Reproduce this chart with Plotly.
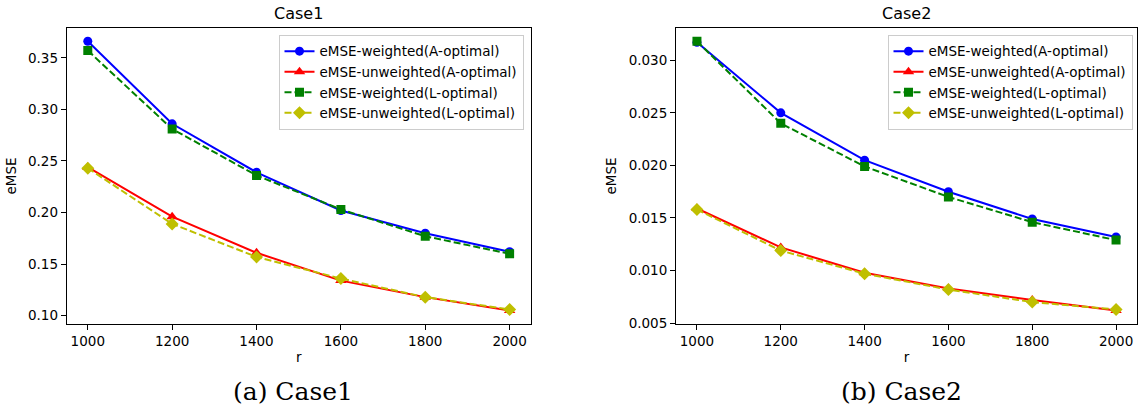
import plotly.graph_objects as go

r_values = [1000, 1200, 1400, 1600, 1800, 2000]

case1_weighted_A = [0.366, 0.286, 0.239, 0.202, 0.180, 0.162]
case1_unweighted_A = [0.244, 0.196, 0.161, 0.134, 0.118, 0.105]
case1_weighted_L = [0.357, 0.281, 0.236, 0.203, 0.177, 0.160]
case1_unweighted_L = [0.243, 0.189, 0.157, 0.136, 0.118, 0.106]

case2_weighted_A = [0.0317, 0.0250, 0.0205, 0.0175, 0.0149, 0.0132]
case2_unweighted_A = [0.0159, 0.0122, 0.0098, 0.0083, 0.0072, 0.0062]
case2_weighted_L = [0.0318, 0.0240, 0.0199, 0.0170, 0.0146, 0.0129]
case2_unweighted_L = [0.0158, 0.0119, 0.0097, 0.0082, 0.0070, 0.0063]

series_names = ["eMSE-weighted(A-optimal)", "eMSE-unweighted(A-optimal)",
                "eMSE-weighted(L-optimal)", "eMSE-unweighted(L-optimal)"]
x_ticks = [1000, 1200, 1400, 1600, 1800, 2000]
case1_yticks = [0.10, 0.15, 0.20, 0.25, 0.30, 0.35]
case2_yticks = [0.005, 0.010, 0.015, 0.020, 0.025, 0.030]
titles = ["Case1", "Case2"]
captions = ["(a) Case1", "(b) Case2"]

W, H = 1141, 419
FONT = "DejaVu Sans"
FS = 13.5

styles = [
    dict(color="#0000ff", symbol="circle", size=9, dash="solid"),
    dict(color="#ff0000", symbol="triangle-up", size=10, dash="solid"),
    dict(color="#008000", symbol="square", size=9, dash="7px,3px"),
    dict(color="#bfbf00", symbol="diamond", size=10, dash="7px,3px"),
]

fig = go.Figure()

panels = [
    dict(data=[case1_weighted_A, case1_unweighted_A, case1_weighted_L, case1_unweighted_L],
         xa="x", ya="y", legend="legend"),
    dict(data=[case2_weighted_A, case2_unweighted_A, case2_weighted_L, case2_unweighted_L],
         xa="x2", ya="y2", legend="legend2"),
]

for p in panels:
    for name, ys, st in zip(series_names, p["data"], styles):
        fig.add_trace(go.Scatter(
            x=r_values, y=ys, name=name, mode="lines+markers",
            xaxis=p["xa"], yaxis=p["ya"], legend=p["legend"],
            line=dict(color=st["color"], width=2, dash=st["dash"]),
            marker=dict(color=st["color"], symbol=st["symbol"], size=st["size"],
                        line=dict(width=0)),
        ))

def pad_range(vals, frac=0.05):
    lo, hi = min(vals), max(vals)
    d = (hi - lo) * frac
    return [lo - d, hi + d]

# pixel layout
dom1 = [66.7 / W, 530.7 / W]
dom2 = [676.0 / W, 1137.0 / W]
ydom = [1 - 329.5 / H, 1 - 28.3 / H]

axis_common = dict(
    showline=True, linecolor="black", linewidth=1, mirror=True,
    ticks="outside", ticklen=5, tickwidth=1, tickcolor="black",
    showgrid=False, zeroline=False,
    tickfont=dict(family=FONT, size=FS, color="black"),
)

xr = pad_range(r_values)
all1 = sum(panels[0]["data"], [])
all2 = sum(panels[1]["data"], [])

fig.update_layout(
    width=W, height=H,
    margin=dict(l=0, r=0, t=0, b=0),
    paper_bgcolor="white", plot_bgcolor="white",
    font=dict(family=FONT, size=FS, color="black"),
    xaxis=dict(domain=dom1, anchor="y", range=xr, tickvals=x_ticks,
               title=dict(text="r", font=dict(family=FONT, size=FS), standoff=4),
               **axis_common),
    yaxis=dict(domain=ydom, anchor="x", range=pad_range(all1), tickvals=case1_yticks,
               tickformat=".2f",
               title=dict(text="eMSE", font=dict(family=FONT, size=FS), standoff=8),
               **axis_common),
    xaxis2=dict(domain=dom2, anchor="y2", range=xr, tickvals=x_ticks,
                title=dict(text="r", font=dict(family=FONT, size=FS), standoff=4),
                **axis_common),
    yaxis2=dict(domain=ydom, anchor="x2", range=pad_range(all2), tickvals=case2_yticks,
                tickformat=".3f",
                title=dict(text="eMSE", font=dict(family=FONT, size=FS), standoff=8),
                **axis_common),
    legend=dict(x=523.5 / W, y=1 - 35.5 / H, xanchor="right", yanchor="top",
                bgcolor="rgba(255,255,255,0.8)", bordercolor="#cccccc", borderwidth=1,
                font=dict(family=FONT, size=FS, color="black")),
    legend2=dict(x=1132.5 / W, y=1 - 35.5 / H, xanchor="right", yanchor="top",
                 bgcolor="rgba(255,255,255,0.8)", bordercolor="#cccccc", borderwidth=1,
                 font=dict(family=FONT, size=FS, color="black")),
    showlegend=True,
)

centers = [(dom1[0] + dom1[1]) / 2, (dom2[0] + dom2[1]) / 2]
for i, (t, c) in enumerate(zip(titles, captions)):
    fig.add_annotation(text=t, xref="paper", yref="paper", x=centers[i], y=1 - 14 / H,
                       showarrow=False, xanchor="center", yanchor="middle",
                       font=dict(family=FONT, size=16, color="black"))
    cx = [292.5 / W, 901.5 / W][i]
    fig.add_annotation(text=c, xref="paper", yref="paper", x=cx, y=1 - 398 / H,
                       showarrow=False, xanchor="center", yanchor="middle",
                       font=dict(family="DejaVu Serif", size=25, color="black"))

fig.write_html("out.html",
               config={"displayModeBar": False},
               post_script="document.body.style.margin='0';document.body.style.overflow='hidden';")
